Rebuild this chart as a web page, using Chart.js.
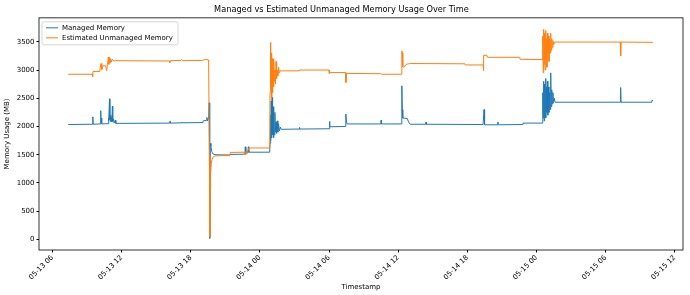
<!DOCTYPE html>
<html>
<head>
<meta charset="utf-8">
<script src="https://cdn.jsdelivr.net/npm/chart.js@4"></script>
<style>
  body { margin: 0; background: #fff; }
  canvas { display: block; }
</style>
</head>
<body>
<canvas id="memoryChart" width="690" height="295"></canvas>
<script>
// hours since 05-13 00:00
const managedHours = [7.37, 9.47, 9.50, 9.53, 10.16, 10.19, 10.22, 10.26, 10.29, 10.82, 10.86, 10.90, 10.95, 10.98,
    11.02, 11.06, 11.10, 11.15, 11.20, 11.23, 11.30, 11.35, 11.45, 11.50, 16.18, 16.20, 16.23, 17.20, 17.23, 17.26,
    19.05, 19.08, 19.35, 19.40, 19.45, 19.55, 19.60, 19.63, 19.66, 19.69, 19.75, 19.82, 19.90, 20.10, 21.40, 21.42,
    22.70, 22.73, 22.78, 22.88, 22.95, 23.00, 23.04, 24.85, 24.88, 24.92, 24.95, 24.98, 25.02, 25.06, 25.10, 25.14,
    25.18, 25.22, 25.26, 25.30, 25.35, 25.40, 25.45, 25.50, 25.56, 25.62, 25.70, 25.78, 25.86, 25.92, 27.41, 27.43,
    27.46, 30.02, 30.04, 30.08, 31.43, 31.46, 31.52, 31.58, 34.50, 34.52, 34.55, 36.30, 36.32, 36.36, 36.40, 36.80,
    36.90, 37.05, 38.40, 38.42, 38.45, 43.37, 43.45, 43.50, 44.64, 44.66, 44.69, 46.80, 46.83, 48.52, 48.55, 48.59,
    48.63, 48.67, 48.71, 48.75, 48.79, 48.83, 48.87, 48.91, 48.95, 48.99, 49.04, 49.09, 49.15, 49.20, 49.24, 49.28,
    49.33, 49.38, 49.43, 49.48, 49.55, 49.62, 55.29, 55.31, 55.34, 57.95, 58.02, 58.11];
const managedMB = [2035, 2040, 2170, 2040, 2045, 2280, 2060, 2150, 2045, 2050, 2150, 2100, 2490, 2120,
    2200, 2090, 2160, 2080, 2360, 2090, 2130, 2060, 2110, 2055, 2060, 2090, 2060, 2065, 2080, 2065,
    2070, 2100, 2110, 2160, 2100, 2150, 2420, 1200, 20, 1700, 1650, 1560, 1520, 1500, 1495, 1505,
    1510, 1640, 1520, 1560, 1530, 1640, 1545, 1545, 1700, 2200, 1750, 2450, 1800, 2520, 1850, 2350,
    1800, 2150, 1850, 2250, 1900, 2080, 1880, 2100, 1900, 2050, 1920, 1990, 1950, 1950, 1955, 1985,
    1955, 1960, 2090, 1995, 2000, 2220, 2080, 2045, 2045, 2110, 2045, 2045, 2720, 2300, 2150, 2140,
    2080, 2040, 2040, 2080, 2040, 2035, 2300, 2030, 2030, 2080, 2030, 2035, 2060, 2060, 2600, 2150,
    2800, 2100, 2750, 2200, 2850, 2150, 2700, 2250, 2800, 2200, 2700, 2250, 2600, 2300, 2950, 2350,
    2650, 2400, 2600, 2420, 2500, 2430, 2430, 2690, 2430, 2430, 2460, 2460];

const unmanagedHours = [7.37, 9.45, 9.48, 9.52, 10.10, 10.15, 10.22, 10.28, 10.40, 10.60, 10.70, 10.78, 10.85, 10.90,
    10.95, 11.00, 11.05, 11.10, 11.20, 11.30, 11.45, 16.15, 16.18, 16.22, 17.15, 17.20, 17.30, 19.00, 19.30, 19.50,
    19.55, 19.62, 19.66, 19.68, 19.72, 19.78, 19.85, 19.95, 20.10, 21.40, 21.43, 22.70, 22.74, 22.78, 22.88, 22.95,
    23.05, 24.85, 24.88, 24.92, 24.95, 24.98, 25.02, 25.06, 25.10, 25.14, 25.18, 25.22, 25.26, 25.30, 25.35, 25.40,
    25.45, 25.50, 25.56, 25.62, 25.70, 25.80, 25.90, 27.40, 27.43, 30.00, 30.03, 30.10, 31.43, 31.47, 31.52, 34.50,
    34.55, 36.29, 36.32, 36.36, 36.40, 36.50, 36.70, 36.90, 37.05, 41.80, 41.83, 43.37, 43.40, 43.43, 43.70, 43.75,
    46.55, 46.58, 48.50, 48.55, 48.59, 48.63, 48.67, 48.71, 48.75, 48.79, 48.83, 48.87, 48.91, 48.95, 48.99, 49.04,
    49.09, 49.15, 49.20, 49.24, 49.28, 49.33, 49.38, 49.43, 49.50, 49.60, 55.28, 55.31, 55.34, 58.11];
const unmanagedMB = [2925, 2925, 2880, 2975, 2975, 3050, 3115, 3010, 3080, 3075, 2990, 3100, 3230, 3100,
    3220, 3130, 3200, 3140, 3190, 3160, 3165, 3160, 3130, 3165, 3170, 3185, 3165, 3170, 3190, 3180,
    3160, 1500, 50, 900, 1160, 1340, 1420, 1460, 1480, 1485, 1540, 1545, 1500, 1560, 1520, 1570,
    1620, 1620, 2600, 3490, 2700, 3300, 2500, 3200, 2600, 3050, 2700, 3200, 2800, 3000, 2750, 3150,
    2850, 3000, 2900, 3050, 2950, 2990, 2985, 2985, 3000, 3000, 2940, 2955, 2955, 2780, 2940, 2935,
    2925, 2925, 3340, 3300, 3060, 3050, 3100, 3110, 3115, 3110, 3090, 3090, 2990, 3260, 3260, 3225,
    3225, 3190, 3185, 3600, 2950, 3720, 3100, 3650, 3000, 3700, 3200, 3550, 3050, 3650, 3300, 3600,
    3150, 3550, 3300, 3650, 3350, 3550, 3400, 3520, 3450, 3495, 3495, 3250, 3495, 3490];

const xTickHours = [6, 12, 18, 24, 30, 36, 42, 48, 54, 60];
const yTickValues = [0, 500, 1000, 1500, 2000, 2500, 3000, 3500];

function toPoints(hours, values) {
    return hours.map((h, i) => ({ x: h, y: values[i] }));
}

function hourLabel(h) {
    const day = 13 + Math.floor(h / 24);
    const hr = h % 24;
    return '05-' + day + ' ' + String(hr).padStart(2, '0');
}

const tickFont = { family: 'DejaVu Sans', size: 7 };

// matplotlib-like frame + legend inside the plot
const framePlugin = {
    id: 'frame',
    afterDatasetsDraw(chart) {
        const a = chart.chartArea;
        const ctx = chart.ctx;
        ctx.save();
        ctx.strokeStyle = '#000';
        ctx.lineWidth = 0.8;
        ctx.strokeRect(a.left, a.top, a.right - a.left, a.bottom - a.top);

        const bx = a.left + 3, by = a.top + 4, bw = 136, bh = 23;
        ctx.fillStyle = 'rgba(255,255,255,0.8)';
        ctx.strokeStyle = '#cccccc';
        ctx.lineWidth = 0.8;
        ctx.beginPath();
        ctx.roundRect(bx, by, bw, bh, 2);
        ctx.fill();
        ctx.stroke();

        ctx.font = '7px "DejaVu Sans"';
        ctx.textBaseline = 'middle';
        ctx.textAlign = 'left';
        chart.data.datasets.forEach((ds, i) => {
            const y = by + 6 + i * 10;
            ctx.strokeStyle = ds.borderColor;
            ctx.lineWidth = 1;
            ctx.beginPath();
            ctx.moveTo(bx + 4, y);
            ctx.lineTo(bx + 16, y);
            ctx.stroke();
            ctx.fillStyle = '#000';
            ctx.fillText(ds.label, bx + 20, y);
        });
        ctx.restore();
    }
};

new Chart(document.getElementById('memoryChart'), {
    type: 'line',
    data: {
        datasets: [{
            label: 'Managed Memory',
            data: toPoints(managedHours, managedMB),
            borderColor: '#1f77b4',
            borderWidth: 1,
            pointRadius: 0,
            order: 1
        }, {
            label: 'Estimated Unmanaged Memory',
            data: toPoints(unmanagedHours, unmanagedMB),
            borderColor: '#ff7f0e',
            borderWidth: 1,
            pointRadius: 0,
            order: 0
        }]
    },
    options: {
        responsive: false,
        animation: false,
        devicePixelRatio: 1,
        layout: { padding: { left: 0, right: 7, top: 0, bottom: 0 } },
        plugins: {
            legend: { display: false },
            tooltip: { enabled: false },
            title: {
                display: true,
                text: 'Managed vs Estimated Unmanaged Memory Usage Over Time',
                color: '#000',
                font: { family: 'DejaVu Sans', size: 8.2, weight: 'normal' },
                padding: { top: 5, bottom: 3 }
            }
        },
        scales: {
            x: {
                type: 'linear',
                min: 4.83,
                max: 60.72,
                afterBuildTicks: (scale) => {
                    scale.ticks = xTickHours.map(v => ({ value: v }));
                },
                afterFit: (scale) => { scale.height = 45; },
                grid: { drawOnChartArea: false, drawTicks: true, tickLength: 2.5, color: '#000' },
                border: { display: false },
                ticks: {
                    color: '#000',
                    font: tickFont,
                    minRotation: 45,
                    maxRotation: 45,
                    padding: 1,
                    autoSkip: false,
                    callback: (v) => hourLabel(v)
                },
                title: {
                    display: true,
                    text: 'Timestamp',
                    color: '#000',
                    font: tickFont,
                    padding: { top: 0, bottom: 4 }
                }
            },
            y: {
                min: -187,
                max: 3924,
                afterBuildTicks: (scale) => {
                    scale.ticks = yTickValues.map(v => ({ value: v }));
                },
                afterFit: (scale) => { scale.width = 39; },
                grid: { drawOnChartArea: false, drawTicks: true, tickLength: 2.5, color: '#000' },
                border: { display: false },
                ticks: {
                    color: '#000',
                    font: tickFont,
                    padding: 2,
                    callback: (v) => String(v)
                },
                title: {
                    display: true,
                    text: 'Memory Usage (MB)',
                    color: '#000',
                    font: tickFont,
                    padding: { top: 3, bottom: 2 }
                }
            }
        }
    },
    plugins: [framePlugin]
});
</script>
</body>
</html>
